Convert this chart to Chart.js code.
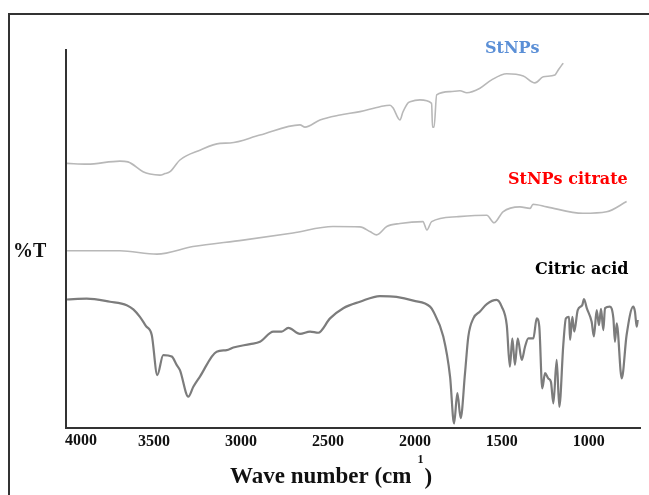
<!DOCTYPE html>
<html>
<head>
<meta charset="utf-8">
<script src="https://cdn.jsdelivr.net/npm/chart.js@4/dist/chart.umd.min.js"></script>
<style>
  html, body { margin: 0; padding: 0; background: #fff; }
  #wrap { width: 649px; height: 495px; position: relative; }
</style>
</head>
<body>
<div id="wrap"><canvas id="ftir" width="649" height="495"></canvas></div>
<script>
// FTIR spectra: wavenumber (cm-1) and stacked %T (arbitrary offset units)
const xTickValues = [4000, 3500, 3000, 2500, 2000, 1500, 1000];

const stnpsWave = [3994, 3879, 3690, 3644, 3557, 3517, 3460, 3431, 3402, 3345, 3230, 3115, 3057, 2885, 2655, 2626, 2540, 2425, 2310, 2195, 2137, 2120, 2080, 2063, 2034, 2022, 1965, 1898, 1893, 1884, 1869, 1792, 1735, 1696, 1620, 1553, 1466, 1371, 1304, 1256, 1189, 1170, 1150, 1141];
const stnpsT    = [70.0, 69.8, 70.6, 70.4, 67.8, 67.2, 66.9, 67.3, 67.8, 70.9, 73.5, 75.3, 75.4, 77.5, 80.2, 79.6, 81.5, 82.8, 83.7, 85.0, 85.4, 84.7, 81.5, 83.6, 86.0, 86.3, 86.8, 85.9, 79.6, 79.6, 88.1, 89.0, 89.2, 88.7, 89.9, 92.1, 93.7, 93.1, 91.3, 92.9, 93.4, 94.7, 96.0, 96.5];

const citrateWave = [3994, 3690, 3477, 3270, 2982, 2695, 2465, 2310, 2250, 2214, 2156, 2080, 1948, 1925, 1898, 1754, 1581, 1539, 1488, 1390, 1332, 1315, 1236, 1028, 892, 777];
const citrateT    = [46.9, 46.9, 46.0, 48.0, 49.7, 51.6, 53.3, 53.2, 51.9, 51.1, 53.3, 54.1, 54.6, 52.4, 54.6, 55.9, 56.3, 54.3, 57.2, 58.5, 58.1, 59.2, 58.5, 56.8, 57.2, 59.9];

const citricWave = [3994, 3881, 3747, 3651, 3613, 3575, 3541, 3507, 3475, 3441, 3392, 3364, 3345, 3297, 3268, 3230, 3134, 3076, 3038, 2942, 2885, 2808, 2760, 2722, 2655, 2597, 2550, 2482, 2406, 2310, 2195, 2100, 2003, 1907, 1888, 1831, 1792, 1769, 1750, 1731, 1706, 1687, 1658, 1620, 1581, 1524, 1495, 1466, 1448, 1434, 1419, 1403, 1380, 1361, 1342, 1313, 1294, 1279, 1262, 1246, 1227, 1212, 1198, 1179, 1164, 1141, 1126, 1108, 1102, 1089, 1078, 1058, 1032, 1022, 1006, 978, 965, 949, 936, 924, 911, 901, 873, 853, 844, 834, 805, 777, 739, 729, 719, 713];
const citricT    = [34.0, 34.2, 33.4, 32.5, 31.4, 29.4, 27.0, 24.6, 14.0, 19.3, 18.9, 16.7, 15.3, 8.3, 10.9, 13.6, 20.2, 20.6, 21.3, 22.2, 22.8, 25.5, 25.5, 26.5, 24.9, 25.5, 25.2, 29.0, 31.7, 33.4, 34.9, 34.7, 33.7, 32.1, 30.8, 24.2, 13.6, 1.2, 9.2, 2.6, 14.5, 24.2, 29.0, 30.8, 32.8, 33.9, 32.1, 27.2, 16.2, 23.7, 16.7, 23.7, 18.0, 21.5, 23.7, 23.7, 29.0, 26.8, 10.5, 14.5, 13.1, 12.2, 6.5, 18.0, 5.6, 22.0, 29.0, 29.4, 23.3, 29.4, 25.5, 31.2, 32.5, 34.1, 31.7, 28.1, 24.2, 31.2, 27.2, 31.5, 25.9, 31.7, 32.1, 29.0, 22.8, 27.7, 13.1, 24.6, 32.1, 30.8, 26.8, 28.6];

const seriesNames = ['StNPs', 'StNPs citrate', 'Citric acid'];

const toPoints = (xs, ys) => xs.map((x, i) => ({ x: x, y: ys[i] }));

const SERIF = '"Liberation Serif", "Times New Roman", serif';
const LABEL_FONT = '"DejaVu Serif", serif';

// Frame, axis texts and curve names
const decorations = {
  id: 'decorations',
  afterDraw(chart) {
    const ctx = chart.ctx;
    const xs = chart.scales.x;
    ctx.save();

    // outer frame (left and top edges)
    ctx.strokeStyle = '#333';
    ctx.lineWidth = 2;
    ctx.beginPath();
    ctx.moveTo(9, 495);
    ctx.lineTo(9, 14);
    ctx.lineTo(649, 14);
    ctx.stroke();

    // x tick labels
    ctx.fillStyle = '#111';
    ctx.font = 'bold 16px ' + SERIF;
    ctx.textBaseline = 'alphabetic';
    xTickValues.forEach((v, i) => {
      const px = xs.getPixelForValue(v);
      if (i === 0) {
        ctx.textAlign = 'left';
        ctx.fillText(String(v), px - 1, 445);
      } else {
        ctx.textAlign = 'center';
        ctx.fillText(String(v), px + 1, 446);
      }
    });

    // x axis title with superscript
    ctx.textAlign = 'left';
    ctx.font = 'bold 23px ' + SERIF;
    const main = 'Wave number (cm';
    ctx.fillText(main, 230, 483);
    let cx = 230 + ctx.measureText(main).width + 6;
    ctx.font = 'bold 12px ' + SERIF;
    ctx.fillText('1', cx, 463);
    cx += ctx.measureText('1').width + 1;
    ctx.font = 'bold 23px ' + SERIF;
    ctx.fillText(')', cx, 484);

    // y axis label
    ctx.font = 'bold 20px ' + SERIF;
    ctx.fillText('%T', 13, 257);

    // curve names
    ctx.font = 'bold 16px ' + LABEL_FONT;
    ctx.fillStyle = '#5b8fd6';
    ctx.fillText(seriesNames[0], 485, 53);
    ctx.fillStyle = '#ff0000';
    ctx.fillText(seriesNames[1], 508, 184);
    ctx.fillStyle = '#000';
    ctx.fillText(seriesNames[2], 535, 274);

    ctx.restore();
  }
};

new Chart(document.getElementById('ftir'), {
  type: 'line',
  data: {
    datasets: [
      {
        label: seriesNames[0],
        data: toPoints(stnpsWave, stnpsT),
        borderColor: '#b8b8b8',
        borderWidth: 1.6,
        pointRadius: 0,
        cubicInterpolationMode: 'monotone'
      },
      {
        label: seriesNames[1],
        data: toPoints(citrateWave, citrateT),
        borderColor: '#b8b8b8',
        borderWidth: 1.6,
        pointRadius: 0,
        cubicInterpolationMode: 'monotone'
      },
      {
        label: seriesNames[2],
        data: toPoints(citricWave, citricT),
        borderColor: '#7c7c7c',
        borderWidth: 2.2,
        pointRadius: 0,
        cubicInterpolationMode: 'monotone'
      }
    ]
  },
  options: {
    responsive: false,
    animation: false,
    devicePixelRatio: 1,
    layout: { padding: { left: 0, top: 50, right: 9, bottom: 0 } },
    plugins: {
      legend: { display: false },
      tooltip: { enabled: false }
    },
    scales: {
      x: {
        type: 'linear',
        reverse: true,
        min: 700,
        max: 4000,
        grid: { display: false },
        ticks: { display: false },
        border: { display: true, color: '#333', width: 2 },
        afterFit(scale) { scale.height = 67; }
      },
      y: {
        type: 'linear',
        min: 0,
        max: 100,
        grid: { display: false },
        ticks: { display: false },
        border: { display: true, color: '#333', width: 2 },
        afterFit(scale) { scale.width = 66; }
      }
    }
  },
  plugins: [decorations]
});
</script>
</body>
</html>
